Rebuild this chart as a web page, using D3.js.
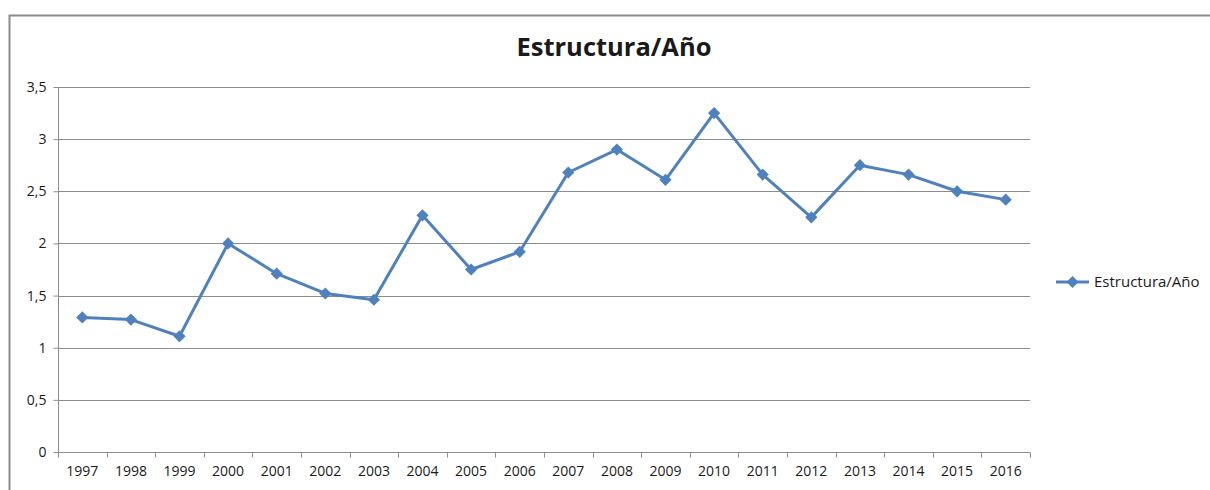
<!DOCTYPE html>
<html>
<head>
<meta charset="utf-8">
<script src="https://cdn.jsdelivr.net/npm/d3@7"></script>
<style>
  body { margin: 0; background: #fff; }
  svg text { font-family: "Open Sans", "Noto Sans", sans-serif; fill: #1a1a1a; }
</style>
</head>
<body>
<div id="chart"></div>
<script>
// Data
const years = ["1997", "1998", "1999", "2000", "2001", "2002", "2003", "2004", "2005", "2006",
               "2007", "2008", "2009", "2010", "2011", "2012", "2013", "2014", "2015", "2016"];
const values = [1.29, 1.27, 1.11, 2.0, 1.71, 1.52, 1.46, 2.27, 1.75, 1.92,
                2.68, 2.90, 2.61, 3.25, 2.66, 2.25, 2.75, 2.66, 2.50, 2.42];
const yTicks = [0, 0.5, 1, 1.5, 2, 2.5, 3, 3.5];
const seriesName = "Estructura/Año";
const title = "Estructura/Año";

const W = 1210, H = 490;
const margin = { top: 87, right: 180, bottom: 38, left: 58 };
const width = W - margin.left - margin.right;   // 972
const height = H - margin.top - margin.bottom;  // 365

const color = "#4F81BD";
const gridColor = "#8c8c8c";

const svgRoot = d3.select("#chart").append("svg")
    .attr("width", W)
    .attr("height", H);

// Chart frame (clipped on the right and bottom like the reference)
svgRoot.append("rect")
    .attr("x", 9.5)
    .attr("y", 15.5)
    .attr("width", 1240)
    .attr("height", 520)
    .attr("fill", "none")
    .attr("stroke", "#8a8a8a")
    .attr("stroke-width", 2);

const svg = svgRoot.append("g")
    .attr("transform", `translate(${margin.left},${margin.top})`);

const x = d3.scaleBand()
    .domain(years)
    .range([0, width]);

const y = d3.scaleLinear()
    .domain([0, 3.5])
    .range([height, 0]);

const fmt = d => d3.format("")(d).replace(".", ",");

// Grid lines
svg.append("g")
    .selectAll("line")
    .data(yTicks.filter(d => d > 0))
    .enter().append("line")
    .attr("x1", 0)
    .attr("x2", width)
    .attr("y1", d => Math.round(y(d)) + 0.5)
    .attr("y2", d => Math.round(y(d)) + 0.5)
    .attr("stroke", gridColor)
    .attr("stroke-width", 1);

// Y axis
const gY = svg.append("g")
    .attr("transform", "translate(0.5,0)")
    .call(d3.axisLeft(y).tickValues(yTicks).tickSize(5).tickPadding(7).tickFormat(fmt));
gY.select(".domain").attr("stroke", gridColor).attr("d", `M0,${y(3.5)}V${height}`);
gY.selectAll(".tick line").attr("stroke", gridColor);
gY.selectAll("text").style("font-size", "14px").attr("fill", "#1a1a1a");

// X axis with tick marks between categories
const gX = svg.append("g")
    .attr("transform", `translate(0,${Math.round(height) + 0.5})`);
gX.append("line")
    .attr("x1", 0).attr("x2", width)
    .attr("stroke", gridColor);
gX.selectAll(".sep")
    .data(d3.range(years.length + 1))
    .enter().append("line")
    .attr("x1", i => Math.round(i * x.bandwidth()) + 0.5)
    .attr("x2", i => Math.round(i * x.bandwidth()) + 0.5)
    .attr("y1", 0)
    .attr("y2", 5)
    .attr("stroke", gridColor);
gX.selectAll(".lbl")
    .data(years)
    .enter().append("text")
    .attr("x", d => x(d) + x.bandwidth() / 2)
    .attr("y", 23)
    .attr("text-anchor", "middle")
    .style("font-size", "14px")
    .text(d => d);

// Line
const line = d3.line()
    .x((d, i) => x(years[i]) + x.bandwidth() / 2)
    .y(d => y(d));

svg.append("path")
    .datum(values)
    .attr("d", line)
    .attr("fill", "none")
    .attr("stroke", color)
    .attr("stroke-width", 3)
    .attr("stroke-linejoin", "round");

// Diamond markers
const diamond = d3.symbol().type(d3.symbolDiamond2).size(95);
svg.selectAll(".dot")
    .data(values)
    .enter().append("path")
    .attr("d", diamond)
    .attr("transform", (d, i) => `translate(${x(years[i]) + x.bandwidth() / 2},${y(d)})`)
    .attr("fill", color);

// Title
svgRoot.append("text")
    .attr("x", 614)
    .attr("y", 56)
    .attr("text-anchor", "middle")
    .style("font-size", "25.5px")
    .style("font-weight", "bold")
    .text(title);

// Legend
const legend = svgRoot.append("g")
    .attr("transform", "translate(1056,282)");
legend.append("line")
    .attr("x1", 0).attr("x2", 33)
    .attr("stroke", color)
    .attr("stroke-width", 3);
legend.append("path")
    .attr("d", diamond)
    .attr("transform", "translate(16.5,0)")
    .attr("fill", color);
legend.append("text")
    .attr("x", 38)
    .attr("y", 5)
    .style("font-size", "15px")
    .text(seriesName);
</script>
</body>
</html>
